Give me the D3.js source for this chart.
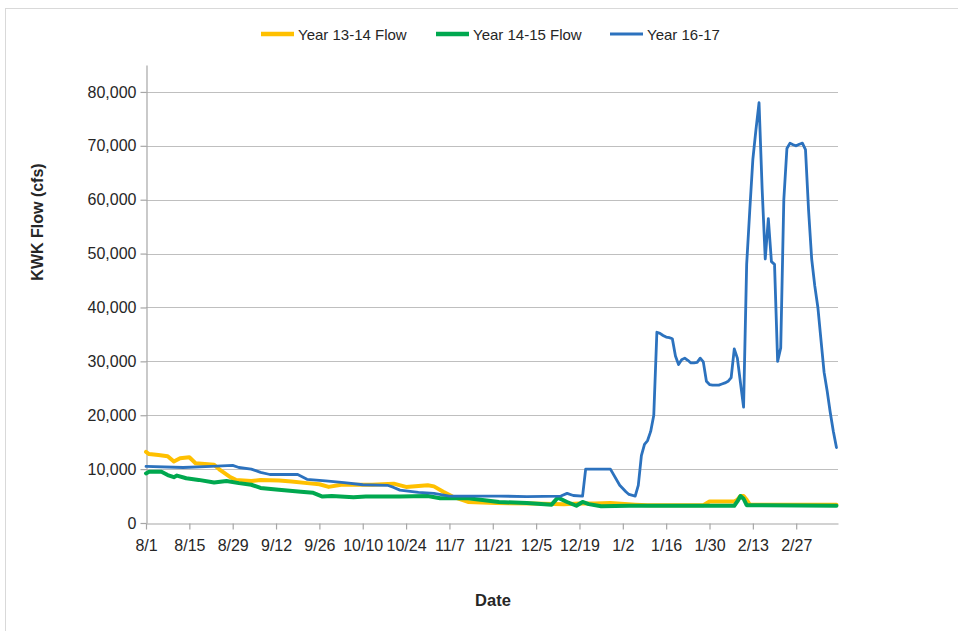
<!DOCTYPE html>
<html>
<head>
<meta charset="utf-8">
<script src="https://cdn.jsdelivr.net/npm/d3@7"></script>
<style>
body { margin: 0; background: #fff; }
text { font-family: "Liberation Sans", Arial, sans-serif; fill: #262626; }
</style>
</head>
<body>
<svg id="chart" width="958" height="631"></svg>
<script>
// tick labels, every 14 days starting 8/1
var dateLabels = ['8/1', '8/15', '8/29', '9/12', '9/26', '10/10', '10/24', '11/7',
	'11/21', '12/5', '12/19', '1/2', '1/16', '1/30', '2/13', '2/27'];
var yTicks = [0, 10000, 20000, 30000, 40000, 50000, 60000, 70000, 80000];

var seriesNames = ['Year 13-14 Flow', 'Year 14-15 Flow', 'Year 16-17'];
var seriesColors = ['#FFC000', '#00A84F', '#2C72BE'];
var seriesWidths = [4, 4, 2.8];

// days since 8/1 and flow (cfs)
var days1314 = [0, 1, 4, 7, 9, 11, 14, 16, 20, 22, 24, 27, 29, 34, 37, 43, 47, 52, 56, 59, 63, 73, 80, 84,
	91, 93, 96, 99, 104, 113, 125, 135, 140, 145, 150, 158, 162, 180, 182, 190, 191, 192, 193, 194, 195, 223];
var flow1314 = [13200, 12800, 12600, 12400, 11400, 12000, 12200, 11100, 10900, 10800, 9800, 8600, 8000, 7800,
	8000, 7900, 7700, 7400, 7200, 6700, 7100, 7100, 7300, 6700, 7000, 6800, 5800, 4900, 3900, 3700, 3600, 3500,
	3600, 3600, 3700, 3400, 3300, 3300, 4000, 4000, 4300, 5000, 5000, 4300, 3400, 3400];

var days1415 = [0, 1, 5, 7, 9, 10, 13, 17, 22, 26, 30, 34, 37, 42, 50, 54, 57, 60, 67, 71, 82, 91, 95, 104,
	114, 123, 131, 133, 136, 139, 141, 143, 147, 156, 190, 191, 192, 193, 194, 223];
var flow1415 = [9200, 9500, 9500, 8900, 8500, 8800, 8300, 8000, 7500, 7800, 7400, 7100, 6500, 6200, 5800, 5600,
	4900, 5000, 4800, 4900, 4900, 5000, 4600, 4600, 3900, 3700, 3400, 4700, 3900, 3200, 3900, 3500, 3100, 3200,
	3200, 4000, 5000, 4500, 3300, 3200];

var days1617 = [0, 12, 21, 28, 30, 34, 37, 40, 49, 52, 58, 64, 70, 78, 80, 82, 88, 93, 98, 114,
	123, 134, 136, 138, 141, 142, 150, 153, 155, 156, 158, 159, 160, 161, 162, 163, 164, 165, 166, 167,
	168, 169, 170, 171, 172, 173, 174, 175, 176, 177, 178, 179, 180, 181, 182, 183, 185, 186, 187, 188,
	189, 190, 191, 192, 193, 194, 195, 196, 197, 198, 199, 200, 201, 202, 203, 204, 205, 206, 207, 208,
	209, 210, 211, 212, 213, 214, 215, 216, 217, 218, 219, 220, 221, 222, 223];
var flow1617 = [10500, 10300, 10500, 10700, 10300, 10000, 9400, 9000, 9000, 8100, 7800, 7500, 7100, 7000, 6600, 6100, 5700, 5500, 5000, 5000,
	4900, 5000, 5500, 5100, 5000, 10000, 10000, 7000, 5800, 5300, 5000, 7000, 12500, 14600, 15300, 17000, 20000, 35400, 35200, 34800,
	34500, 34400, 34200, 31000, 29400, 30300, 30600, 30200, 29700, 29700, 29800, 30600, 29900, 26300, 25700, 25600, 25600, 25800, 26000, 26300,
	27000, 32300, 30600, 26000, 21500, 48000, 58000, 67500, 73000, 78000, 62000, 49000, 56500, 48500, 48000, 30000, 32500, 60000, 69500, 70500,
	70200, 70000, 70300, 70500, 69300, 58000, 49000, 44000, 40000, 34000, 28000, 24500, 20500, 17000, 14000];

var allDays = [days1314, days1415, days1617];
var allFlows = [flow1314, flow1415, flow1617];

var svg = d3.select('#chart');

var plotLeft = 146, plotRight = 838, plotTop = 65, plotBottom = 523;

// outer chart border
svg.append('rect')
	.attr('x', 5.5).attr('y', 8.5)
	.attr('width', 1000).attr('height', 700)
	.attr('fill', 'none')
	.attr('stroke', '#D9D9D9');

var xscale = d3.scaleLinear()
	.domain([0, 223.5])
	.range([plotLeft, plotRight]);

var yscale = d3.scaleLinear()
	.domain([0, 85000])
	.range([plotBottom, plotTop]);

// gridlines
svg.append('g')
	.selectAll('line')
	.data(yTicks.slice(1))
	.enter()
	.append('line')
	.attr('x1', plotLeft).attr('x2', plotRight)
	.attr('y1', d => Math.round(yscale(d)) + 0.5)
	.attr('y2', d => Math.round(yscale(d)) + 0.5)
	.attr('stroke', '#BFBFBF')
	.attr('stroke-width', 1.2);

var xaxis = d3.axisBottom(xscale)
	.tickValues(dateLabels.map((d, i) => i * 14))
	.tickFormat((d, i) => dateLabels[i])
	.tickSizeInner(6)
	.tickSizeOuter(0)
	.tickPadding(10);

var yaxis = d3.axisLeft(yscale)
	.tickValues(yTicks)
	.tickFormat(d3.format(','))
	.tickSizeInner(6)
	.tickSizeOuter(0)
	.tickPadding(4);

var gx = svg.append('g')
	.attr('transform', 'translate(0,' + (plotBottom + 0.5) + ')')
	.call(xaxis);
gx.selectAll('text').style('font-size', '16px').attr('fill', '#262626');

var gy = svg.append('g')
	.attr('transform', 'translate(' + (plotLeft + 0.5) + ',0)')
	.call(yaxis);
gy.selectAll('text').style('font-size', '16px').attr('fill', '#262626');

svg.selectAll('.domain').attr('stroke', '#A6A6A6').attr('stroke-width', 1.2);
svg.selectAll('.tick line').attr('stroke', '#A6A6A6').attr('stroke-width', 1.2);

var line = d3.line()
	.x(d => xscale(d[0]))
	.y(d => yscale(d[1]));

for (var s = 0; s < 3; s++) {
	var coords = allDays[s].map((d, i) => [d, allFlows[s][i]]);
	svg.append('path')
		.datum(coords)
		.attr('d', line)
		.attr('fill', 'none')
		.attr('stroke', seriesColors[s])
		.attr('stroke-width', seriesWidths[s])
		.attr('stroke-linejoin', 'round')
		.attr('stroke-linecap', 'round');
}

// legend
var legendX = [261, 436, 610];
var legend = svg.append('g');
for (var s = 0; s < 3; s++) {
	legend.append('line')
		.attr('x1', legendX[s]).attr('x2', legendX[s] + 33)
		.attr('y1', 34).attr('y2', 34)
		.attr('stroke', seriesColors[s])
		.attr('stroke-width', s == 2 ? 3 : 4.5);
	legend.append('text')
		.attr('x', legendX[s] + 37)
		.attr('y', 39.5)
		.style('font-size', '15px')
		.text(seriesNames[s]);
}

// axis titles
svg.append('text')
	.attr('x', 493).attr('y', 606)
	.attr('text-anchor', 'middle')
	.style('font-size', '16.5px')
	.style('font-weight', 'bold')
	.text('Date');

svg.append('text')
	.attr('transform', 'translate(43,222) rotate(-90)')
	.attr('text-anchor', 'middle')
	.style('font-size', '16px')
	.style('font-weight', 'bold')
	.text('KWK Flow (cfs)');
</script>
</body>
</html>
